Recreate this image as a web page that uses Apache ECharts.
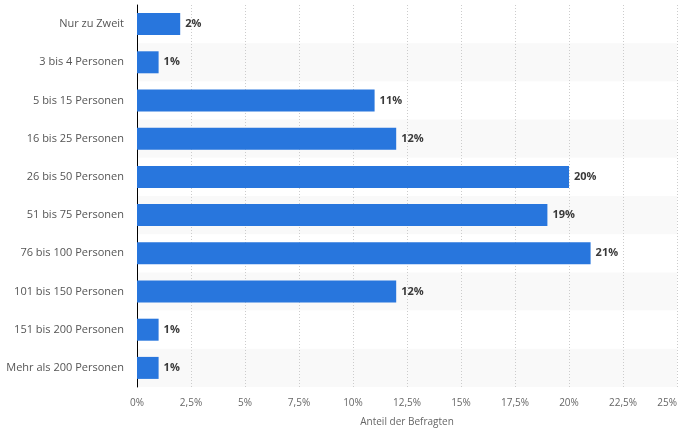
<!DOCTYPE html>
<html><head><meta charset="utf-8">
<script src="https://cdn.jsdelivr.net/npm/echarts@6/dist/echarts.min.js"></script>
<style>html,body{margin:0;padding:0;background:#fff}#c{width:693px;height:432px}</style>
</head><body><div id="c"></div>
<script>
const categories = ["Nur zu Zweit","3 bis 4 Personen","5 bis 15 Personen","16 bis 25 Personen","26 bis 50 Personen","51 bis 75 Personen","76 bis 100 Personen","101 bis 150 Personen","151 bis 200 Personen","Mehr als 200 Personen"];
const values = [2,1,11,12,20,19,21,12,1,1];
const xTicks = [0,2.5,5,7.5,10,12.5,15,17.5,20,22.5,25];
const axisTitle = "Anteil der Befragten";
const font = "'Open Sans', sans-serif";
const chart = echarts.init(document.getElementById('c'), null, {renderer:'canvas'});
chart.setOption({
  animation:false,
  grid:{left:137,right:16,top:5,bottom:45,containLabel:false},
  xAxis:{type:'value',min:xTicks[0],max:xTicks[xTicks.length-1],interval:xTicks[1]-xTicks[0],
    name:axisTitle,nameLocation:'middle',nameGap:30,
    nameTextStyle:{color:'#666',fontSize:10,fontFamily:font},
    axisLine:{show:false},axisTick:{show:false},
    axisLabel:{color:'#666',fontSize:10,fontFamily:font,margin:11,alignMaxLabel:'right',
      formatter:v=>String(v).replace('.',',')+'%'},
    splitLine:{show:true,lineStyle:{color:'#cccccc',type:[1,2],width:1}}
  },
  yAxis:{type:'category',data:categories,inverse:true,
    axisLine:{show:true,lineStyle:{color:'#000',width:1}},axisTick:{show:false},
    axisLabel:{color:'#555',fontSize:11,fontFamily:font,margin:13},
    splitArea:{show:true,areaStyle:{color:['#ffffff','#f9f9f9']}}
  },
  series:[{type:'bar',data:values,barWidth:22,
    itemStyle:{color:'#2876dd'},
    label:{show:true,position:'right',distance:5,formatter:p=>p.value+'%',
      color:'#3a3a3a',fontWeight:'bold',fontSize:11,fontFamily:font}
  }]
});
</script></body></html>
